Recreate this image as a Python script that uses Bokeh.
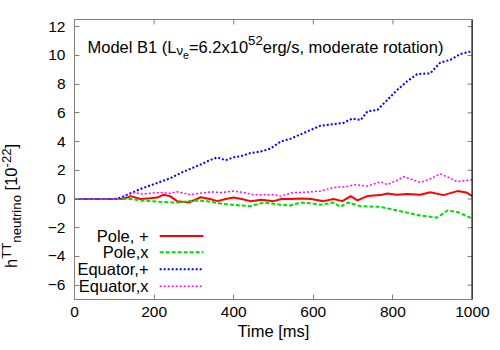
from bokeh.plotting import figure
from bokeh.models import Label, Range1d, FixedTicker, Span, Div
from bokeh.layouts import row
from bokeh.embed import file_html
from bokeh.resources import INLINE

# ---- data ----
t_pole_plus = [0, 100, 116, 133, 141, 166, 190, 208, 224, 240, 258, 287, 317, 340, 359, 380, 400, 420, 442, 470, 500,
               520, 543, 568, 595, 626, 651, 673, 694, 711, 736, 769, 786, 810, 836, 869, 894, 927, 962, 985, 1000]
h_pole_plus = [0, 0, 0, 0.1, 0.2, 0.0, 0.05, 0.1, 0.3, 0.2, -0.15, -0.25, 0.12, 0.0, -0.15, 0.0, 0.1, 0.0, -0.15, -0.05, -0.15,
               0.0, 0.0, 0.03, 0.0, -0.15, 0.0, -0.15, 0.2, -0.1, 0.2, 0.27, 0.38, 0.3, 0.35, 0.3, 0.47, 0.27, 0.55, 0.45, 0.2]

t_pole_x = [0, 100, 116, 141, 166, 191, 216, 258, 300, 333, 375, 416, 442, 475, 518, 543, 568, 593, 618, 651, 668,
            686, 719, 769, 802, 836, 869, 911, 937, 962, 1000]
h_pole_x = [0, 0, 0, 0, -0.1, -0.15, -0.2, -0.25, -0.1, -0.15, -0.35, -0.45, -0.5, -0.25, -0.4, -0.45, -0.25, -0.3, -0.4, -0.25, -0.55,
            -0.25, -0.5, -0.55, -0.75, -0.95, -1.15, -1.3, -0.8, -0.9, -1.37]

t_eq_plus = [0, 50, 100, 116, 141, 166, 191, 216, 241, 266, 291, 317, 340, 359, 379, 400, 420, 442, 467, 492, 518,
             543, 568, 593, 618, 647, 676, 698, 719, 736, 761, 786, 811, 836, 861, 894, 919, 945, 970, 1000]
h_eq_plus = [0, 0, 0, 0.1, 0.4, 0.7, 0.95, 1.2, 1.45, 1.8, 2.1, 2.4, 2.7, 2.9, 2.7, 2.9, 3.0, 3.2, 3.3, 3.5, 4.0,
             4.2, 4.5, 4.8, 5.1, 5.2, 5.3, 5.6, 5.5, 6.1, 6.2, 6.9, 7.6, 8.2, 8.7, 8.75, 9.5, 9.7, 10.1, 10.3]

t_eq_x = [0, 100, 116, 133, 148, 170, 191, 216, 240, 258, 291, 315, 342, 370, 400, 425, 450, 500, 518, 550, 568,
          593, 618, 651, 680, 706, 736, 769, 786, 810, 827, 850, 869, 894, 919, 940, 962, 1000]
h_eq_x = [0, 0, 0, 0.3, 0.45, 0.35, 0.4, 0.45, 0.4, 0.5, 0.3, 0.4, 0.5, 0.45, 0.55, 0.45, 0.3, 0.3, 0.2, 0.45, 0.45,
          0.5, 0.55, 0.8, 0.85, 1.0, 0.9, 1.2, 1.0, 1.3, 1.55, 1.35, 1.15, 1.4, 1.75, 1.5, 1.2, 1.35]

series_names = ["Pole, +", "Pole,x", "Equator,+", "Equator,x"]
x_ticks = [0, 200, 400, 600, 800, 1000]
y_ticks = [-6, -4, -2, 0, 2, 4, 6, 8, 10, 12]

# ---- layout ----
FONT = "Liberation Sans"
FS = 16.5
X0, X1 = 0, 1000
Y0, Y1 = -7, 12.5
FW, FH = 398, 280
PX = FW / (X1 - X0)   # px per data x
PY = FH / (Y1 - Y0)   # px per data y
TICK = 5
LABEL_W = 36

p = figure(width=492 - LABEL_W, height=341, frame_width=FW, frame_height=FH,
           x_range=Range1d(X0, X1), y_range=Range1d(Y0, Y1),
           output_backend="svg", toolbar_location=None,
           min_border_left=74 - LABEL_W, min_border_right=20, min_border_top=19, min_border_bottom=42)
p.margin = 0
p.background_fill_color = "white"
p.border_fill_color = "white"
GRAY = "#808080"
p.outline_line_color = GRAY
p.grid.visible = False

for ax in (p.xaxis[0], p.yaxis[0]):
    ax.major_tick_in = TICK
    ax.major_tick_out = 0
    ax.minor_tick_line_color = None
    ax.axis_line_color = GRAY
    ax.major_tick_line_color = GRAY
    ax.major_label_text_font = FONT
    ax.major_label_text_font_size = "15.5px"
    ax.major_label_text_color = "black"
    ax.axis_label_text_font = FONT
    ax.axis_label_text_font_size = "16.5px"
    ax.axis_label_text_font_style = "normal"
    ax.axis_label_text_color = "black"

p.xaxis[0].ticker = FixedTicker(ticks=x_ticks)
p.yaxis[0].ticker = FixedTicker(ticks=y_ticks)
p.xaxis[0].axis_label = "Time [ms]"
p.xaxis[0].major_label_standoff = 7
p.xaxis[0].axis_label_standoff = 2
p.yaxis[0].major_label_standoff = 9

# mirror ticks on top and right (inward), right border black as in the reference
p.segment(x0=x_ticks, y0=[Y1] * len(x_ticks), x1=x_ticks, y1=[Y1 - TICK / PY] * len(x_ticks),
          line_color=GRAY, line_width=1)
p.segment(x0=[X1] * len(y_ticks), y0=y_ticks, x1=[X1 - TICK / PX] * len(y_ticks), y1=y_ticks,
          line_color=GRAY, line_width=1)
p.add_layout(Span(location=X1, dimension="height", line_color="black", line_width=2))

# ---- curves ----
styles = [
    dict(color="#ff0000", line_width=2, line_dash="solid"),
    dict(color="#00dd00", line_width=2, line_dash="4 2"),
    dict(color="#0000ff", line_width=2, line_dash="2 2"),
    dict(color="#ff00ff", line_width=1.5, line_dash="2 2"),
]
data = [(t_pole_plus, h_pole_plus), (t_pole_x, h_pole_x), (t_eq_plus, h_eq_plus), (t_eq_x, h_eq_x)]
for (tt, hh), st in zip(data, styles):
    p.line(tt, hh, **st)

# ---- legend (gnuplot style: text right-aligned, sample to the right) ----
leg_text_x = 186
leg_line_x0, leg_line_x1 = 214, 324
leg_rows_y = [-2.57, -3.71, -4.89, -6.07]
for name, st, yy in zip(series_names, styles, leg_rows_y):
    p.add_layout(Label(x=leg_text_x, y=yy, text=name, text_align="right", text_baseline="middle",
                       text_font=FONT, text_font_size=f"{FS}px", text_color="black"))
    p.line([leg_line_x0, leg_line_x1], [yy, yy], **st)

# ---- rich text helper (Arial/Liberation metrics) ----
W = {' ': 278, 'M': 833, 'o': 556, 'd': 556, 'e': 556, 'l': 222, 'B': 667, '1': 556, '(': 333, ')': 333,
     'L': 556, 'ν': 500, '=': 584, '6': 556, '.': 278, '2': 556, 'x': 500, '0': 556, '5': 556, 'r': 333,
     'g': 556, '/': 278, 's': 500, ',': 278, 'm': 833, 'a': 556, 't': 278, 'i': 222, 'n': 556}


def twidth(s, size):
    return sum(W.get(c, 556) for c in s) * size / 1000.0


def rich(segments, x_px, y_px):
    """segments: (text, size, shift_px_up); x_px, y_px: baseline start in frame pixels
    (x from frame left, y from frame bottom)."""
    pos = 0.0
    for text, size, shift in segments:
        p.add_layout(Label(x=X0 + (x_px + pos) / PX, y=Y0 + (y_px + shift) / PY, text=text,
                           text_align="left", text_baseline="alphabetic",
                           text_font=FONT, text_font_size=f"{size}px", text_color="black"))
        pos += twidth(text, size)


SUB = 0.8 * FS
title = [("Model B1 (L", FS, 0), ("ν", SUB, -4), ("e", 0.64 * FS, -8), ("=6.2x10", FS, 0),
         ("52", SUB, 6), ("erg/s, moderate rotation)", FS, 0)]
rich(title, 87 - 74, 300 - 47)

# ---- rotated y-axis title with real super/subscripts ----
ylab_html = (
    '<div style="position:absolute; left:1px; top:268px; transform:rotate(-90deg); '
    'transform-origin:0 0; white-space:nowrap; font-family:\'Liberation Sans\'; '
    'font-size:16.5px; line-height:20px; color:black;">'
    'h<sup style="font-size:0.8em; vertical-align:0.45em; line-height:0">TT</sup>'
    '<sub style="font-size:0.8em; vertical-align:-0.3em; line-height:0">neutrino</sub>'
    ' [10<sup style="font-size:0.8em; vertical-align:0.45em; line-height:0">-22</sup>]</div>'
)
ylab = Div(text=ylab_html, width=LABEL_W, height=341, margin=0,
           styles={"position": "relative", "overflow": "visible"})

layout = row(ylab, p, spacing=0)
open("out.html", "w").write(file_html(layout, INLINE))
